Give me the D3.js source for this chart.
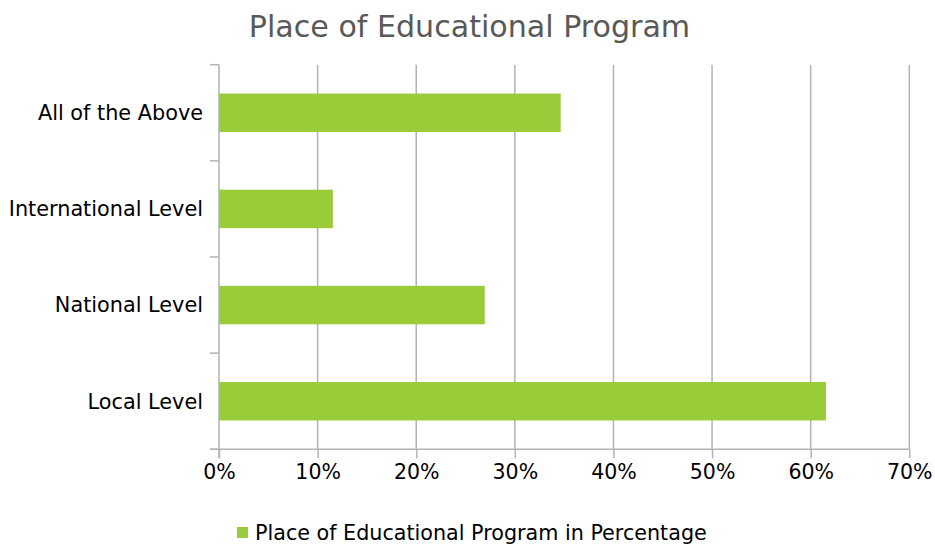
<!DOCTYPE html>
<html><head><meta charset="utf-8">
<script src="https://cdn.jsdelivr.net/npm/d3@7"></script>
<style>body{margin:0;background:#fff}svg{display:block}text{font-family:"DejaVu Sans",sans-serif}</style>
</head><body>
<svg id="c" width="935" height="546"></svg>
<script>
const categories = ["All of the Above","International Level","National Level","Local Level"];
const values = [34.65, 11.55, 26.95, 61.55];
const xTicks = [0,10,20,30,40,50,60,70];
const title = "Place of Educational Program";
const seriesName = "Place of Educational Program in Percentage";

(function(){
const svg = d3.select("#c");
const pL = 219, pR = 909.3, pT = 64.7, pB = 449.3;
const x = d3.scaleLinear().domain([0,70]).range([pL,pR]);
const y = d3.scaleBand().domain(categories).range([pT,pB]).paddingInner(0.6).paddingOuter(0.3);
const grid = "#b3b3b3";

// gridlines
svg.append("g").selectAll("line").data(xTicks.slice(1)).join("line")
  .attr("x1",d=>x(d)).attr("x2",d=>x(d)).attr("y1",pT).attr("y2",pB)
  .attr("stroke",grid).attr("stroke-width",1.5);

// bars
svg.append("g").selectAll("rect").data(values).join("rect")
  .attr("x",x(0)).attr("y",(d,i)=>y(categories[i]))
  .attr("width",d=>x(d)-x(0)).attr("height",y.bandwidth())
  .attr("fill","#9acc3a");

// x axis
const xa = svg.append("g").attr("transform",`translate(0,${pB})`)
  .call(d3.axisBottom(x).tickValues(xTicks).tickFormat(d=>d+"%").tickSize(9).tickSizeOuter(0).tickPadding(6));
xa.select(".domain").remove();
xa.append("line").attr("x1",210).attr("x2",pR).attr("y1",0).attr("y2",0).attr("stroke",grid).attr("stroke-width",1.5);
xa.selectAll(".tick line").attr("stroke",grid).attr("stroke-width",1.5);
xa.selectAll("text").attr("fill","#000").style("font-size","20.5px").style("font-family","DejaVu Sans");

// y axis
const ya = svg.append("g").attr("transform",`translate(${pL},0)`);
ya.append("line").attr("x1",0).attr("x2",0).attr("y1",pT).attr("y2",pB+9).attr("stroke",grid).attr("stroke-width",1.5);
const yTickPos = d3.range(categories.length+1).map(i=>pT + i*y.step());
ya.selectAll("line.t").data(yTickPos).join("line").attr("class","t")
  .attr("x1",-9).attr("x2",0).attr("y1",d=>d).attr("y2",d=>d).attr("stroke",grid).attr("stroke-width",1.5);
ya.selectAll("text").data(categories).join("text")
  .attr("x",-16).attr("y",d=>y(d)+y.bandwidth()/2).attr("dy","0.35em")
  .attr("text-anchor","end").attr("fill","#000").style("font-size","20.8px").text(d=>d);

// title
svg.append("text").attr("x",469.5).attr("y",37).attr("text-anchor","middle")
  .attr("fill","#595959").style("font-size","30.1px").text(title);

// legend
svg.append("rect").attr("x",237).attr("y",527).attr("width",11).attr("height",11).attr("fill","#9acc3a");
svg.append("text").attr("x",255).attr("y",540).attr("fill","#000").style("font-size","20.7px").text(seriesName);
})();
</script>
</body></html>
